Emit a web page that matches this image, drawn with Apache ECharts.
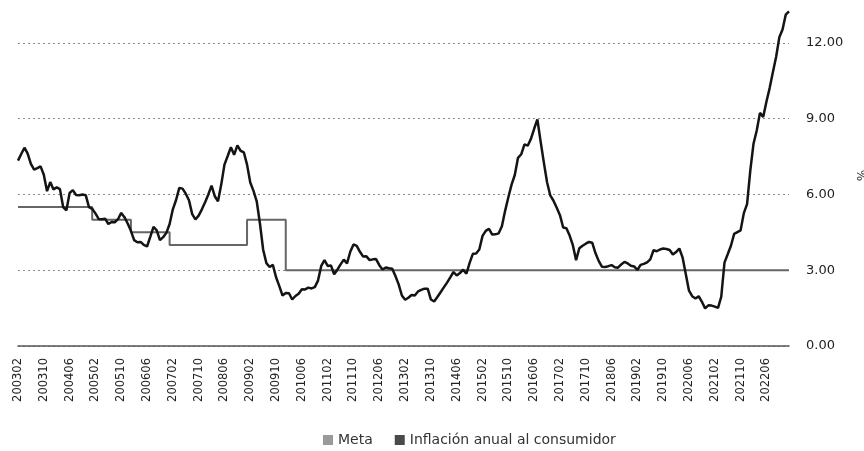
<!DOCTYPE html>
<html>
<head>
<meta charset="utf-8">
<script src="https://cdn.jsdelivr.net/npm/echarts@6/dist/echarts.min.js"></script>
<style>
  html, body { margin: 0; padding: 0; background: #fff; }
  #chart { width: 864px; height: 451px; }
</style>
</head>
<body>
<div id="chart"></div>
<script>
// periodo mensual 200302 - 202301
const inicio = [2003, 2]
const fin = [2023, 1]

// inflación anual al consumidor (%), una fila por año
const inflacion = [
  7.34, 7.60, 7.85, 7.62, 7.21, 6.98, 7.04, 7.11, 6.78, 6.13, 6.49,            // 2003 (feb-dic)
  6.20, 6.28, 6.21, 5.50, 5.37, 6.06, 6.17, 5.98, 5.97, 6.00, 5.97, 5.50,      // 2004
  5.43, 5.25, 5.03, 5.02, 5.04, 4.83, 4.91, 4.90, 5.02, 5.27, 5.10, 4.85,      // 2005
  4.56, 4.19, 4.11, 4.12, 4.00, 3.94, 4.32, 4.72, 4.58, 4.19, 4.31, 4.48,      // 2006
  4.83, 5.41, 5.78, 6.26, 6.23, 6.03, 5.77, 5.22, 5.01, 5.16, 5.41, 5.69,      // 2007
  6.00, 6.35, 5.93, 5.73, 6.39, 7.18, 7.52, 7.87, 7.57, 7.94, 7.73, 7.67,      // 2008
  7.18, 6.47, 6.14, 5.73, 4.85, 3.81, 3.28, 3.13, 3.21, 2.72, 2.37, 2.00,      // 2009
  2.10, 2.09, 1.84, 1.98, 2.07, 2.25, 2.24, 2.31, 2.28, 2.33, 2.59, 3.17,      // 2010
  3.40, 3.17, 3.19, 2.84, 3.02, 3.23, 3.42, 3.27, 3.73, 4.02, 3.96, 3.73,      // 2011
  3.54, 3.55, 3.40, 3.43, 3.44, 3.20, 3.03, 3.11, 3.08, 3.06, 2.77, 2.44,      // 2012
  2.00, 1.83, 1.91, 2.02, 2.00, 2.16, 2.22, 2.27, 2.27, 1.84, 1.76, 1.94,      // 2013
  2.13, 2.32, 2.51, 2.72, 2.93, 2.79, 2.89, 3.02, 2.86, 3.29, 3.65, 3.66,      // 2014
  3.82, 4.36, 4.56, 4.64, 4.41, 4.42, 4.46, 4.74, 5.35, 5.89, 6.39, 6.77,      // 2015
  7.45, 7.59, 7.98, 7.93, 8.20, 8.60, 8.97, 8.10, 7.27, 6.48, 5.96, 5.75,      // 2016
  5.47, 5.18, 4.69, 4.66, 4.37, 3.99, 3.40, 3.87, 3.97, 4.05, 4.12, 4.09,      // 2017
  3.68, 3.37, 3.14, 3.13, 3.16, 3.20, 3.12, 3.10, 3.23, 3.33, 3.27, 3.18,      // 2018
  3.15, 3.01, 3.21, 3.25, 3.31, 3.43, 3.79, 3.75, 3.82, 3.86, 3.84, 3.80,      // 2019
  3.62, 3.72, 3.86, 3.51, 2.85, 2.19, 1.97, 1.88, 1.97, 1.75, 1.49, 1.61,      // 2020
  1.60, 1.56, 1.51, 1.95, 3.30, 3.63, 3.97, 4.44, 4.51, 4.58, 5.26, 5.62,      // 2021
  6.94, 8.01, 8.53, 9.23, 9.07, 9.67, 10.21, 10.84, 11.44, 12.22, 12.53, 13.12, // 2022
  13.25                                                                        // 2023 (ene)
]

// meta de inflación: [desde (aaaamm), valor]
const metaTramos = [
  ['200302', 5.5],
  ['200501', 5.0],
  ['200601', 4.5],
  ['200701', 4.0],
  ['200901', 5.0],
  ['201001', 3.0]
]

const yTicks = [0, 3, 6, 9, 12]

// categorías aaaamm
const meses = []
for (let y = inicio[0], m = inicio[1]; y < fin[0] || (y === fin[0] && m <= fin[1]); m++) {
  if (m > 12) { m = 1; y++ }
  if (y > fin[0] || (y === fin[0] && m > fin[1])) break
  meses.push(String(y) + String(m).padStart(2, '0'))
}

const meta = meses.map(mes => {
  let v = null
  metaTramos.forEach(([desde, valor]) => { if (mes >= desde) v = valor })
  return v
})

const chart = echarts.init(document.getElementById('chart'))
chart.setOption({
  animation: false,
  backgroundColor: '#fff',
  textStyle: { fontFamily: 'DejaVu Sans' },
  grid: { left: 18, right: 75, top: 5, bottom: 105, outerBoundsMode: 'none' },
  legend: {
    left: 318,
    top: 428,
    itemWidth: 10,
    itemHeight: 10,
    itemGap: 22,
    icon: 'rect',
    textStyle: { fontSize: 14, color: '#333', fontFamily: 'DejaVu Sans' },
    data: [
      { name: 'Meta', itemStyle: { color: '#9a9a9a' } },
      { name: 'Inflación anual al consumidor', itemStyle: { color: '#4a4a4a' } }
    ]
  },
  xAxis: {
    type: 'category',
    data: meses,
    boundaryGap: false,
    axisLine: { lineStyle: { color: '#555', width: 1.5 } },
    axisTick: { show: false },
    axisLabel: {
      interval: 7,
      rotate: 90,
      margin: 12,
      fontSize: 11.5,
      color: '#222',
      fontFamily: 'DejaVu Sans'
    },
    splitLine: { show: false }
  },
  yAxis: {
    type: 'value',
    position: 'right',
    min: 0,
    max: 13.5,
    interval: 3,
    name: '%',
    nameLocation: 'middle',
    nameGap: 64,
    nameRotate: -90,
    nameTextStyle: { fontSize: 12, color: '#333' },
    axisLine: { show: false },
    axisTick: { show: false },
    axisLabel: {
      margin: 17,
      fontSize: 13,
      color: '#222',
      showMaxLabel: false,
      formatter: v => yTicks.includes(v) ? v.toFixed(2) : ''
    },
    splitLine: {
      showMaxLine: false,
      lineStyle: { color: '#8a8a8a', type: [2, 3], width: 1 }
    }
  },
  series: [
    {
      name: 'Meta',
      type: 'line',
      data: meta,
      step: 'end',
      symbol: 'none',
      lineStyle: { color: '#666', width: 2 },
      itemStyle: { color: '#9a9a9a' },
      z: 2
    },
    {
      name: 'Inflación anual al consumidor',
      type: 'line',
      data: inflacion,
      symbol: 'none',
      lineStyle: { color: '#141414', width: 2.5 },
      itemStyle: { color: '#4a4a4a' },
      z: 3
    }
  ]
})
</script>
</body>
</html>
